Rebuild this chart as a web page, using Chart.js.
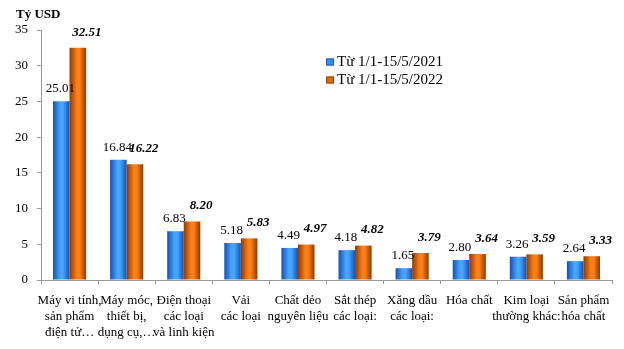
<!DOCTYPE html>
<html>
<head>
<meta charset="utf-8">
<script src="https://cdn.jsdelivr.net/npm/chart.js@4"></script>
<style>
  html, body { margin: 0; padding: 0; background: #fff; }
  #wrap { width: 624px; height: 349px; position: relative; }
</style>
</head>
<body>
<div id="wrap"><canvas id="chart"></canvas></div>
<script>
const categories = [
  ['Máy vi tính,', 'sản phẩm', 'điện tử…'],
  ['Máy móc,', 'thiết bị,', 'dụng cụ,…'],
  ['Điện thoại', 'các loại', 'và linh kiện'],
  ['Vải', 'các loại'],
  ['Chất dẻo', 'nguyên liệu'],
  ['Sắt thép', 'các loại:'],
  ['Xăng dầu', 'các loại:'],
  ['Hóa chất'],
  ['Kim loại', 'thường khác:'],
  ['Sản phẩm', 'hóa chất']
]
const values2021 = [25.01, 16.84, 6.83, 5.18, 4.49, 4.18, 1.65, 2.80, 3.26, 2.64]
const values2022 = [32.51, 16.22, 8.20, 5.83, 4.97, 4.82, 3.79, 3.64, 3.59, 3.33]
const seriesLabels = ['Từ 1/1-15/5/2021', 'Từ 1/1-15/5/2022']
const yTicks = [0, 5, 10, 15, 20, 25, 30, 35]

const SERIF = "'Liberation Serif', 'Times New Roman', serif"

// side shading so the bars look like the rounded excel columns
function barGradient (ctx, dark, light) {
  const chart = ctx.chart
  const x = chart.scales.x
  if (!x || ctx.dataIndex === undefined) return light
  const catW = x.width / categories.length
  const w = catW * 0.58 / 2
  const center = x.getPixelForValue(ctx.dataIndex) + (ctx.datasetIndex === 0 ? -w / 2 : w / 2)
  if (!isFinite(center) || !isFinite(w) || w <= 0) return light
  const g = chart.ctx.createLinearGradient(center - w / 2, 0, center + w / 2, 0)
  g.addColorStop(0, dark)
  g.addColorStop(0.45, light)
  g.addColorStop(0.6, light)
  g.addColorStop(1, dark)
  return g
}

const valueLabels = {
  id: 'valueLabels',
  afterDatasetsDraw (chart) {
    const ctx = chart.ctx
    ctx.save()
    ctx.fillStyle = '#000'
    ctx.textAlign = 'center'
    ctx.textBaseline = 'bottom'
    chart.data.datasets.forEach((ds, i) => {
      const meta = chart.getDatasetMeta(i)
      ctx.font = i === 0 ? `13px ${SERIF}` : `italic bold 13px ${SERIF}`
      meta.data.forEach((bar, j) => {
        const dx = i === 0 ? -1 : 9
        const dy = i === 0 ? 6 : 9
        ctx.fillText(ds.data[j].toFixed(2), bar.x + dx, bar.y - dy)
      })
    })
    ctx.restore()
  }
}

const extras = {
  id: 'extras',
  afterDraw (chart) {
    const ctx = chart.ctx
    ctx.save()
    ctx.fillStyle = '#000'
    ctx.font = `bold 13px ${SERIF}`
    ctx.textBaseline = 'middle'
    ctx.textAlign = 'left'
    ctx.fillText('Tỷ USD', 16, 15)

    // legend
    const colors = ['#2f8ef0', '#e06a10']
    const borders = ['#1a5fb8', '#9a4200']
    ctx.font = `15px ${SERIF}`
    chart.data.datasets.forEach((ds, i) => {
      const y = 62 + i * 18
      ctx.fillStyle = colors[i]
      ctx.fillRect(326, y - 3.5, 8, 7)
      ctx.strokeStyle = borders[i]
      ctx.lineWidth = 1
      ctx.strokeRect(326.5, y - 3, 7, 6)
      ctx.fillStyle = '#000'
      ctx.fillText(ds.label, 337, y)
    })
    ctx.restore()
  }
}

new Chart(document.getElementById('chart'), {
  type: 'bar',
  data: {
    labels: categories,
    datasets: [
      {
        label: seriesLabels[0],
        data: values2021,
        backgroundColor: ctx => barGradient(ctx, '#1652b0', '#46a6ff'),
        borderWidth: 0
      },
      {
        label: seriesLabels[1],
        data: values2022,
        backgroundColor: ctx => barGradient(ctx, '#8e3a00', '#ff8018'),
        borderWidth: 0
      }
    ]
  },
  options: {
    responsive: true,
    maintainAspectRatio: false,
    animation: false,
    categoryPercentage: 0.58,
    barPercentage: 1,
    layout: {
      padding: { top: 30, right: 12, left: 0, bottom: 0 }
    },
    plugins: {
      legend: { display: false },
      tooltip: { enabled: false }
    },
    scales: {
      x: {
        grid: {
          display: true,
          drawOnChartArea: false,
          offset: true,
          tickLength: 4,
          color: '#999'
        },
        border: { color: '#999', dash: [1, 1] },
        ticks: {
          color: '#000',
          font: { family: SERIF, size: 13, lineHeight: 1.25 },
          maxRotation: 0,
          autoSkip: false,
          padding: 8
        },
        afterFit (scale) { scale.height = 69 }
      },
      y: {
        min: 0,
        max: 35,
        afterBuildTicks (scale) { scale.ticks = yTicks.map(v => ({ value: v })) },
        grid: {
          display: true,
          drawOnChartArea: false,
          tickLength: 4,
          color: '#999'
        },
        border: { color: '#999', dash: [1, 1] },
        ticks: {
          color: '#000',
          font: { family: SERIF, size: 13 },
          padding: 9
        },
        afterFit (scale) { scale.width = 41 }
      }
    }
  },
  plugins: [valueLabels, extras]
})
</script>
</body>
</html>
